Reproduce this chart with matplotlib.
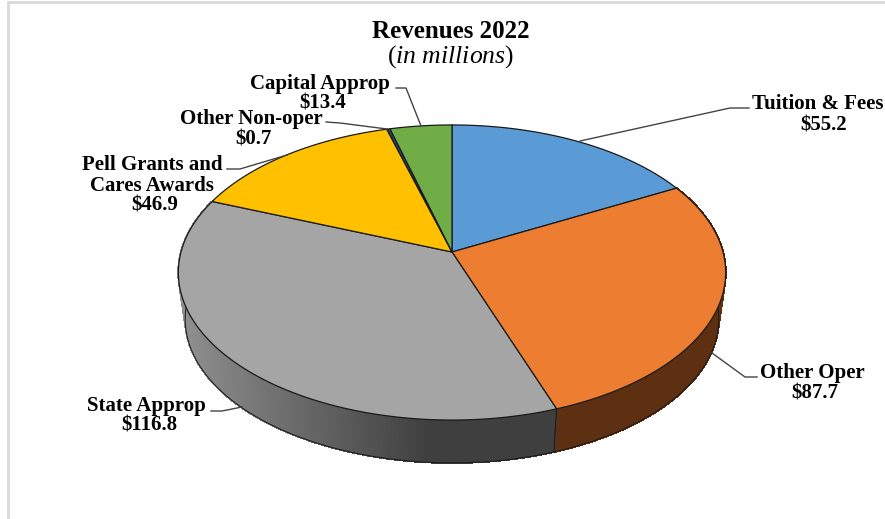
import numpy as np
import matplotlib
matplotlib.use("Agg")
import matplotlib.pyplot as plt
from matplotlib.collections import PolyCollection
from matplotlib.colors import to_rgb
from matplotlib.patches import Polygon

# ── data ──────────────────────────────────────────────────────────────────────

categories = ["Tuition & Fees", "Other Oper", "State Approp",
              "Pell Grants and\nCares Awards", "Other Non-oper", "Capital Approp"]
values = [55.2, 87.7, 116.8, 46.9, 0.7, 13.4]
colors = ["#5b9bd5", "#ed7d31", "#a5a5a5", "#ffc000", "#264478", "#70ad47"]
side_colors = {1: ("#5e3012", "#5e3012"), 2: ("#8e8e8e", "#3f3f3f")}

# ── pie geometry (pixels), a tilted disc with perspective ─────────────────────

CX, CY = 452, 252
A, B, K = 271, 144.7, 0.139
DEPTH, BOTTOM_SCALE = 47, 0.975
LINE = "#1a1a1a"
LEADER = "#444444"

plt.rcParams["font.family"] = ["Liberation Serif"]
plt.rcParams["mathtext.fontset"] = "custom"
plt.rcParams["mathtext.it"] = "Liberation Serif:italic"
plt.rcParams["mathtext.rm"] = "Liberation Serif"


def rim(theta, scale=1.0, dy=0.0):
    w = 1 + K * np.cos(theta)
    x = CX + scale * A * np.sin(theta) / w
    y = CY + dy - scale * B * np.cos(theta) / w
    return np.column_stack([x, y])


fractions = np.array(values) / sum(values)
edges = np.concatenate([[0], np.cumsum(fractions)]) * 2 * np.pi

fig = plt.figure(figsize=(8.85, 5.19), dpi=100)
ax = fig.add_axes([0, 0, 1, 1])
ax.set_xlim(0, 885)
ax.set_ylim(519, 0)
ax.axis("off")

# chart frame, only left and top show
ax.plot([8, 8, 885], [519, 2, 2], color="#d9d9d9", lw=2, solid_joinstyle="miter")

# ── side wall ─────────────────────────────────────────────────────────────────

for i, (c0, c1) in side_colors.items():
    th = np.linspace(edges[i], edges[i + 1], 160)
    top = rim(th)
    bot = rim(th, BOTTOM_SCALE, DEPTH)
    quads, shades = [], []
    for j in range(len(th) - 1):
        quads.append([top[j], top[j + 1], bot[j + 1], bot[j]])
        # brighter towards the left of the chart, flat past x = 430
        t = np.clip((430 - top[j, 0]) / (430 - 183), 0, 1)
        shades.append(np.array(to_rgb(c1)) * (1 - t) + np.array(to_rgb(c0)) * t)
    ax.add_collection(PolyCollection(quads, facecolors=shades, edgecolors=shades,
                                     lw=0.8, antialiaseds=False, zorder=1))
    ax.plot(bot[:, 0], bot[:, 1], color=LINE, lw=0.7, zorder=1.1)

seam = np.array([rim(np.array([edges[2]]))[0], rim(np.array([edges[2]]), BOTTOM_SCALE, DEPTH)[0]])
ax.plot(seam[:, 0], seam[:, 1], color=LINE, lw=0.8, zorder=1.1)

# ── top face ──────────────────────────────────────────────────────────────────

for i, color in enumerate(colors):
    th = np.linspace(edges[i], edges[i + 1], max(int(fractions[i] * 400), 4))
    pts = np.vstack([[CX, CY], rim(th)])
    ax.add_patch(Polygon(pts, closed=True, facecolor=color, edgecolor=LINE, lw=0.9,
                         joinstyle="round", zorder=1.5))

# ── title and labels ──────────────────────────────────────────────────────────

ax.text(451, 32, "Revenues 2022", ha="center", va="center", fontsize=18, fontweight="bold")
ax.text(451, 57, r"($\mathit{in\ millions}$)", ha="center", va="center", fontsize=18.5)

LABEL_POS = [  # one (x, y) per text line
    [(818, 104), (824, 125)],
    [(812, 373), (815, 393)],
    [(146, 406), (149, 425)],
    [(152, 165), (152, 186), (155, 205)],
    [(251, 119), (253, 139)],
    [(320, 84), (323, 103)],
]
LEADERS = [
    [(749, 108), (730, 108), (580, 141)],
    [(757, 377), (745, 377), (712, 353)],
    [(211, 411), (222, 411), (242, 407)],
    [(227, 169), (240, 169), (287, 155)],
    [(326, 122), (340, 123), (387, 129)],
    [(396, 88), (406, 88), (421, 126)],
]

for name, value, pos, leader in zip(categories, values, LABEL_POS, LEADERS):
    lines = name.split("\n") + [f"${value:.1f}"]
    for line, (x, y) in zip(lines, pos):
        ax.text(x, y, line.replace("$", r"\$"), ha="center", va="center",
                fontsize=15, fontweight="bold", clip_on=True)
    xs, ys = zip(*leader)
    ax.plot(xs, ys, color=LEADER, lw=1)

fig.savefig("out.png", dpi=100)
